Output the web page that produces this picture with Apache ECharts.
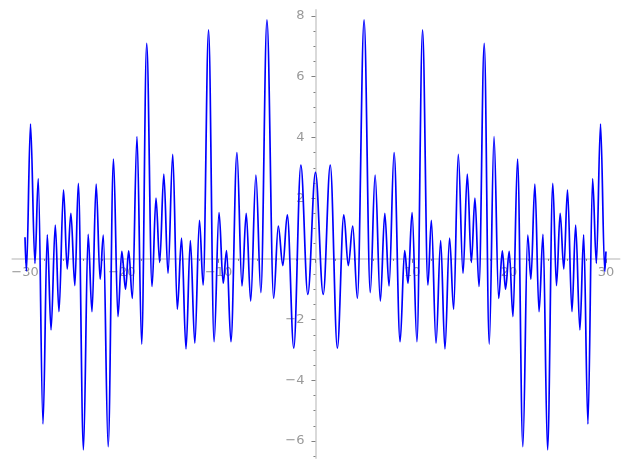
<!DOCTYPE html>
<html><head><meta charset="utf-8">
<script src="https://cdn.jsdelivr.net/npm/echarts@6/dist/echarts.min.js"></script>
<style>html,body{margin:0;padding:0;background:#fff}#c{width:627px;height:469px}</style>
</head><body><div id="c"></div>
<script>
// Curve samples (turning points and end points)
const xValues = [
  -30.00, -29.85, -29.43, -28.97, -28.63, -28.14, -27.70, -27.31, -26.87, -26.49,
  -26.02, -25.64, -25.26, -24.85, -24.49, -23.96, -23.48, -23.08, -22.65, -22.24,
  -21.91, -21.41, -20.86, -20.40, -20.00, -19.62, -19.29, -18.91, -18.43, -17.95,
  -17.43, -16.88, -16.47, -16.09, -15.66, -15.23, -14.74, -14.27, -13.83, -13.37,
  -12.92, -12.46, -11.98, -11.60, -11.04, -10.47, -9.96, -9.53, -9.18, -8.73,
  -8.11, -7.59, -7.15, -6.69, -6.15, -5.64, -5.01, -4.32, -3.84, -3.37,
  -2.91, -2.24, -1.51, -0.79, 0.00,
  0.80, 1.53, 2.26, 2.93, 3.39, 3.85, 4.33, 5.02, 5.66, 6.16,
  6.70, 7.16, 7.60, 8.12, 8.74, 9.21, 9.56, 9.98, 10.48, 11.06,
  11.61, 11.97, 12.45, 12.93, 13.37, 13.85, 14.27, 14.75, 15.24, 15.68,
  16.10, 16.47, 16.89, 17.43, 17.95, 18.44, 18.92, 19.30, 19.63, 20.01,
  20.40, 20.87, 21.42, 21.92, 22.25, 22.66, 23.09, 23.50, 23.97, 24.51,
  24.89, 25.27, 25.65, 26.03, 26.49, 26.87, 27.31, 27.70, 28.14, 28.62,
  29.01, 29.44, 29.88, 30.00
];
const yValues = [
  0.71, -0.40, 4.44, -0.15, 2.64, -5.44, 0.79, -2.34, 1.11, -1.74,
  2.27, -0.33, 1.50, -0.88, 2.49, -6.29, 0.81, -1.74, 2.46, -0.67,
  0.78, -6.19, 3.29, -1.90, 0.25, -1.00, 0.26, -1.30, 4.03, -2.81,
  7.10, -0.91, 2.00, -0.12, 2.79, -0.48, 3.44, -1.66, 0.68, -2.97,
  0.60, -2.78, 1.27, -0.86, 7.54, -2.73, 1.52, -0.80, 0.27, -2.73,
  3.50, -0.89, 1.50, -1.39, 2.76, -1.11, 7.87, -1.30, 1.08, -0.22,
  1.45, -2.94, 3.09, -1.17, 2.85,
  -1.17, 3.09, -2.94, 1.45, -0.22, 1.08, -1.30, 7.87, -1.11, 2.76,
  -1.39, 1.50, -0.89, 3.50, -2.73, 0.27, -0.80, 1.52, -2.73, 7.54,
  -0.86, 1.27, -2.78, 0.60, -2.97, 0.68, -1.66, 3.44, -0.48, 2.79,
  -0.12, 2.00, -0.91, 7.10, -2.81, 4.03, -1.30, 0.26, -1.00, 0.25,
  -1.90, 3.29, -6.19, 0.78, -0.67, 2.46, -1.74, 0.81, -6.29, 2.49,
  -0.88, 1.50, -0.33, 2.27, -1.74, 1.11, -2.34, 0.79, -5.44, 2.64,
  -0.15, 4.44, -0.42, 0.24
];
const xMajorTicks = [-30, -20, -10, 0, 10, 20, 30];
const xTickLabels = [-30, -20, -10, 10, 20, 30];
const xMinorTicks = [-28, -26, -24, -22, -18, -16, -14, -12, -8, -6, -4, -2,
  2, 4, 6, 8, 12, 14, 16, 18, 22, 24, 26, 28];
const yMajorTicks = [-6, -4, -2, 0, 2, 4, 6, 8];
const yTickLabels = [-6, -4, -2, 2, 4, 6, 8];
const yMinorTicks = [-6.5, -5.5, -5, -4.5, -3.5, -3, -2.5, -1.5, -1, -0.5,
  0.5, 1, 1.5, 2.5, 3, 3.5, 4.5, 5, 5.5, 6.5, 7, 7.5];

const data = xValues.map((x, i) => [x, yValues[i]]);
const fmt = v => String(v).replace('-', '\u2212');
const AX = '#d9d9d9', TK = '#808080', LB = '#7f7f7f';
const X_MIN = -31.3, X_MAX = 31.4, Y_MIN = -6.56, Y_MAX = 8.198;
const labelFont = {color: LB, fontSize: 13, fontFamily: 'DejaVu Sans'};

const chart = echarts.init(document.getElementById('c'), null, {renderer: 'canvas'});
chart.setOption({
  animation: false,
  backgroundColor: '#ffffff',
  grid: {left: 12.4, right: 7.5, top: 10, bottom: 11, containLabel: false, outerBoundsMode: 'none'},
  xAxis: [
    {
      type: 'value', min: X_MIN, max: X_MAX, position: 'bottom',
      axisLine: {show: true, onZero: true, onZeroAxisIndex: 0, lineStyle: {color: AX, width: 2}},
      axisTick: {show: true, customValues: xMajorTicks, length: 4, lineStyle: {color: TK, width: 1}},
      axisLabel: {show: false},
      splitLine: {show: false}
    },
    {
      type: 'value', min: X_MIN, max: X_MAX, position: 'bottom',
      axisLine: {show: false, onZero: true, onZeroAxisIndex: 1},
      axisTick: {show: true, customValues: xMinorTicks, length: 2, lineStyle: {color: TK, width: 1}},
      axisLabel: {show: false},
      splitLine: {show: false}
    }
  ],
  yAxis: [
    {
      type: 'value', min: Y_MIN, max: Y_MAX, position: 'left',
      axisLine: {show: true, onZero: true, onZeroAxisIndex: 0, lineStyle: {color: AX, width: 2}},
      axisTick: {show: true, customValues: yMajorTicks, length: 4, lineStyle: {color: TK, width: 1}},
      axisLabel: {show: false},
      splitLine: {show: false}
    },
    {
      type: 'value', min: Y_MIN, max: Y_MAX, position: 'left',
      axisLine: {show: false, onZero: true, onZeroAxisIndex: 1},
      axisTick: {show: true, customValues: yMinorTicks, length: 2, lineStyle: {color: TK, width: 1}},
      axisLabel: {show: false},
      splitLine: {show: false}
    }
  ],
  series: [
    {
      type: 'line', xAxisIndex: 0, yAxisIndex: 0, data: data,
      showSymbol: false, symbol: 'none', smooth: 0.36, smoothMonotone: 'x',
      lineStyle: {color: '#0000ff', width: 1.7}, z: 5, silent: true
    },
    {
      type: 'scatter', xAxisIndex: 0, yAxisIndex: 0, silent: true, z: 1,
      data: xTickLabels.map(v => [v, 0]), symbol: 'circle', symbolSize: 1,
      itemStyle: {color: 'rgba(0,0,0,0)'},
      label: Object.assign({show: true, position: 'bottom', distance: 7,
        formatter: p => fmt(p.value[0])}, labelFont)
    },
    {
      type: 'scatter', xAxisIndex: 0, yAxisIndex: 0, silent: true, z: 1,
      data: yTickLabels.map(v => [0, v]), symbol: 'circle', symbolSize: 1,
      itemStyle: {color: 'rgba(0,0,0,0)'},
      label: Object.assign({show: true, position: 'left', distance: 10.5,
        formatter: p => fmt(p.value[1])}, labelFont)
    }
  ]
});
</script></body></html>
